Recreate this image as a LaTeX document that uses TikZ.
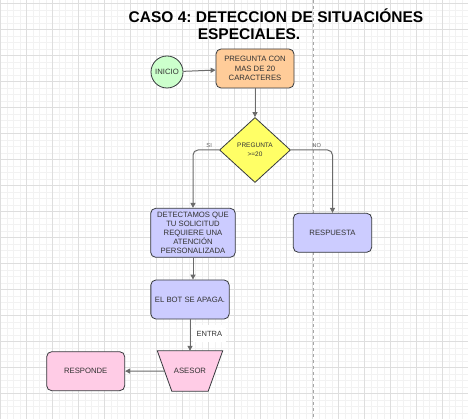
\documentclass[tikz,border=0pt]{standalone}
\usepackage{fontspec}
\setmainfont{Liberation Sans}
\usetikzlibrary{arrows.meta, calc, shapes.geometric}

\definecolor{borde}{HTML}{36393D}
\definecolor{verdeini}{HTML}{CCFFCC}
\definecolor{naranja}{HTML}{FFCC99}
\definecolor{amarillo}{HTML}{FFFF66}
\definecolor{lila}{HTML}{CCCCFF}
\definecolor{rosa}{HTML}{FFCCE6}
\definecolor{flecha}{HTML}{6B6B6B}

\begin{document}
\frenchspacing
\begin{tikzpicture}[
  x=1pt, y=-1pt,
  caja/.style={draw=borde, line width=0.8pt, rounded corners=5pt, align=center,
    inner sep=0pt, font=\fontsize{7.7}{9.2}\selectfont, text=black!80},
  flujo/.style={draw=flecha, line width=1pt, -{Triangle[length=5pt,width=5pt]}},
  etiq/.style={font=\fontsize{5.8}{7}\selectfont, text=black!60, inner sep=1pt},
  rejilla/.style={draw=black!5, line width=0.5pt},
  rejillamayor/.style={draw=black!13, line width=0.8pt},
]
  \useasboundingbox (0,0) rectangle (468,419);
  \fill[white] (0,0) rectangle (468,419);

  % rejilla de fondo
  \foreach \i in {0,...,72} \draw[rejilla] ({0.7+6.5*\i},0) -- ({0.7+6.5*\i},419);
  \foreach \j in {0,...,64} \draw[rejilla] (0,{3.3+6.5*\j}) -- (468,{3.3+6.5*\j});
  \foreach \i in {0,...,18} \draw[rejillamayor] ({0.7+26*\i},0) -- ({0.7+26*\i},419);
  \foreach \j in {0,...,16} \draw[rejillamayor] (0,{3.3+26*\j}) -- (468,{3.3+26*\j});
  % salto de pagina
  \draw[black!35, dashed, line width=0.6pt] (313.3,0) -- (313.3,419);

  % titulo
  \node[font=\bfseries\fontsize{15.5}{18}\selectfont] (titulo1) at (276,16) {CASO 4: DETECCION DE SITUACIÓNES};
  \node[font=\bfseries\fontsize{15.5}{18}\selectfont] (titulo2) at (249,34) {ESPECIALES.};

  \node[circle, draw=borde, fill=verdeini, line width=0.8pt, minimum size=32pt, inner sep=0pt,
        font=\fontsize{7.7}{9.2}\selectfont, text=black!80] (inicio) at (167,72) {INICIO};
  \node[caja, fill=naranja, minimum width=78pt, minimum height=39pt] (pregunta) at (255,68.5)
        {PREGUNTA CON\\MAS DE 20\\CARACTERES};
  \node[diamond, draw=borde, fill=amarillo, line width=0.8pt, minimum width=71pt, minimum height=65pt,
        inner sep=0pt, align=center, font=\fontsize{6.5}{9.3}\selectfont, text=black!80] (rombo) at (255,150)
        {PREGUNTA\\>=20};
  \node[caja, fill=lila, minimum width=84.6pt, minimum height=49pt] (detecta) at (193,232.8)
        {DETECTAMOS QUE\\TU SOLICITUD\\REQUIERE UNA\\ATENCIÓN\\PERSONALIZADA};
  \node[caja, fill=lila, minimum width=78.4pt, minimum height=39pt] (respuesta) at (332.5,232.8) {RESPUESTA};
  \node[caja, fill=lila, minimum width=78.3pt, minimum height=39pt] (bot) at (190,299.5) {EL BOT SE APAGA.};
  \node[caja, fill=rosa, minimum width=78pt, minimum height=39pt] (responde) at (85.7,371.2) {RESPONDE};

  % asesor (trapecio invertido)
  \node[minimum width=65pt, minimum height=40pt, inner sep=0pt] (ases) at (190,371) {};
  \filldraw[fill=rosa, draw=borde, line width=0.8pt]
    (ases.north west) -- (ases.north east) -- ($(ases.south east)+(-14.5,0)$)
    -- ($(ases.south west)+(14.5,0)$) -- cycle;
  \node[font=\fontsize{7.7}{9.2}\selectfont, text=black!80] (asestxt) at (ases) {ASESOR};
  \coordinate (aseslado) at ($(ases.west)+(7.25,0)$);

  % conectores
  \draw[flujo] (inicio) -- (pregunta);
  \draw[flujo] (pregunta) -- (rombo);
  \draw[flujo, rounded corners=5pt] (rombo.west) -| (detecta.north)
    node[etiq, above=1pt, pos=0.19] {SI};
  \draw[flujo, rounded corners=5pt] (rombo.east) -| (respuesta.north)
    node[etiq, above=1pt, pos=0.31] {NO};
  \draw[flujo] (detecta.south) -- (detecta.south |- bot.north);
  \draw[flujo] (bot) -- (ases.north);
  \node[fill=white, inner xsep=4pt, inner ysep=6pt, anchor=west,
        font=\fontsize{7.5}{9}\selectfont, text=black!80] (entra) at (192.5,333.5) {ENTRA};
  \draw[flujo] (aseslado) -- (responde);
\end{tikzpicture}
\end{document}
